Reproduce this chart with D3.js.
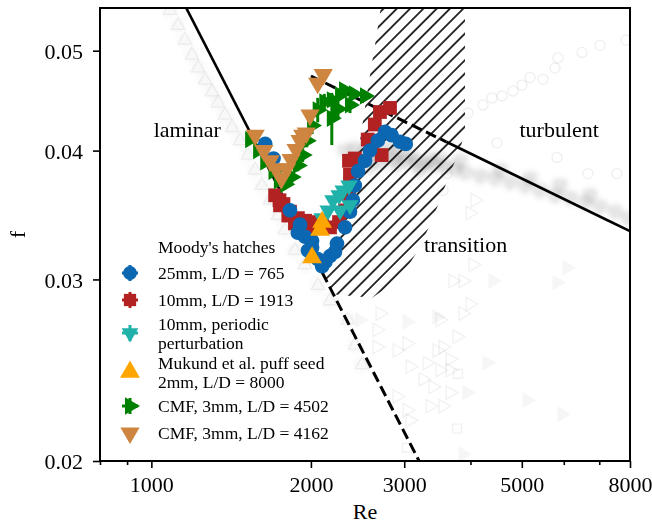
<!DOCTYPE html>
<html>
<head>
<meta charset="utf-8">
<script src="https://cdn.jsdelivr.net/npm/d3@7"></script>
<style>
  body { margin: 0; background: #fff; }
  svg text { font-family: 'Liberation Serif', 'Times New Roman', serif; fill: #000; }
</style>
</head>
<body>
<svg id="chart" width="652" height="527"></svg>
<script>
// --- data (Re, f) ---
var blueRe = [1640, 1700, 1826, 1908, 1950, 2010, 2060, 2100, 2173, 2240, 2320, 2370, 2400, 2420, 2455, 2530, 2585, 2675, 2760, 2840, 2945, 3020,
  1890, 1975, 2130, 2220, 2010]
var blueF = [0.0406, 0.0393, 0.0350, 0.0339, 0.0330, 0.0322, 0.0314, 0.0309, 0.0316, 0.0325, 0.0337, 0.0349, 0.0358, 0.0370, 0.0382, 0.0391, 0.0400, 0.0409, 0.0417, 0.0414, 0.0408, 0.0406,
  0.0333, 0.0320, 0.0312, 0.0319, 0.0327]

var redRe = [1712, 1745, 1775, 1826, 1890, 1950, 2020, 2100, 2173, 2260, 2320, 2360, 2370, 2360, 2420, 2720, 2560, 2640, 2700, 2820,
  1749, 1813, 1866, 1908, 1992]
var redF = [0.0362, 0.0358, 0.0355, 0.0349, 0.0344, 0.0342, 0.0341, 0.0339, 0.0337, 0.0341, 0.0350, 0.0363, 0.0379, 0.0391, 0.0393, 0.0396, 0.0410, 0.0424, 0.0436, 0.0440,
  0.0354, 0.0346, 0.0340, 0.0336, 0.0335]

var tealRe = [2100, 2155, 2200, 2260, 2300, 2360, 2370, 2270]
var tealF = [0.0344, 0.0350, 0.0358, 0.0362, 0.0366, 0.0370, 0.0354, 0.0350]

var orangeRe = [2010, 2081, 2100]
var orangeF = [0.0315, 0.0335, 0.0341]

var greenRe = [1536, 1590, 1640, 1700, 1740, 1790, 1840, 1890, 1930, 1965, 2010, 2060, 2120, 2190, 2270, 2310, 2410, 2530, 2370, 2250, 2190]
var greenF = [0.0410, 0.0400, 0.0390, 0.0382, 0.0374, 0.0371, 0.0377, 0.0387, 0.0396, 0.0409, 0.0423, 0.0438, 0.0446, 0.0448, 0.0453, 0.0458, 0.0454, 0.0452, 0.0443, 0.0439, 0.0430]
var greenErr = [0.0004, 0.0004, 0.0004, 0.0004, 0.0004, 0.0004, 0.0005, 0.0005, 0.0006, 0.0006, 0.0008, 0.0012, 0.0008, 0.0006, 0.0005, 0.0005, 0.0004, 0.0004, 0.0008, 0.0010, 0.0025]

var peruRe = [1570, 1630, 1675, 1720, 1760, 1800, 1835, 1875, 1908, 1960, 1930, 1992, 2060, 2110]
var peruF = [0.0414, 0.0400, 0.0391, 0.0384, 0.0376, 0.0384, 0.0392, 0.0401, 0.0409, 0.0416, 0.0414, 0.0433, 0.0465, 0.0474]

// grey background data
var grayLamRe = [1084, 1123, 1157, 1193, 1225, 1263, 1302, 1336, 1377, 1420, 1470, 1522, 1569, 1617, 1675, 1734, 1788, 1866, 1950, 2063, 2173, 2350, 2423, 2497]
var grayLamF = [0.0547, 0.0529, 0.0512, 0.0495, 0.0481, 0.0468, 0.0456, 0.0445, 0.0433, 0.0421, 0.0409, 0.0396, 0.0383, 0.0370, 0.0358, 0.0346, 0.0335, 0.0320, 0.0310, 0.0296, 0.0286, 0.0274, 0.0259, 0.0248]

var grayCloudRe = [2319, 2423, 2531, 2642, 2759, 2883, 3010, 3144, 3283, 3429, 3581, 3740, 3906, 4170, 4450, 4751, 5071, 5412, 5776, 6166, 6580, 7023, 7497, 7931,
  2476, 2700, 2945, 3213, 3504, 2585, 2820, 3822, 4548, 5181, 5903, 6723, 2600, 2900, 3100, 3350]
var grayCloudF = [0.0400, 0.0402, 0.0399, 0.0400, 0.0396, 0.0393, 0.0391, 0.0390, 0.0388, 0.0387, 0.0386, 0.0384, 0.0381, 0.0378, 0.0376, 0.0373, 0.0370, 0.0366, 0.0362, 0.0360, 0.0356, 0.0353, 0.0349, 0.0344,
  0.0393, 0.0390, 0.0400, 0.0383, 0.0393, 0.0386, 0.0403, 0.0391, 0.0383, 0.0376, 0.0370, 0.0362, 0.0395, 0.0388, 0.0395, 0.0392]

var grayCircRe = [3957, 4224, 4393, 4587, 4812, 5004, 5181, 5483, 5776, 5851, 6494, 7023, 7863, 3612, 3550, 4487, 5826, 6664, 7559]
var grayCircF = [0.0435, 0.0443, 0.0450, 0.0452, 0.0457, 0.0463, 0.0471, 0.0469, 0.0481, 0.0492, 0.0498, 0.0506, 0.0512, 0.0380, 0.0366, 0.0407, 0.0394, 0.0380, 0.0380]

var grayTriRe = [3708, 3873, 3993, 3873, 3504, 2700, 2665, 2665, 2908, 3036, 3459, 3550, 3660, 3774, 3076, 3313, 3504, 3660, 3256, 3400, 3660, 2908, 3036, 3356, 3550, 3076, 3993, 4081, 4045]
var grayTriF = [0.0299, 0.0299, 0.0284, 0.0278, 0.0274, 0.0278, 0.0268, 0.0258, 0.0256, 0.0260, 0.0256, 0.0258, 0.0251, 0.0264, 0.0247, 0.0249, 0.0245, 0.0245, 0.0240, 0.0236, 0.0233, 0.0231, 0.0224, 0.0226, 0.0226, 0.0219, 0.0348, 0.0358, 0.0310]

var grayFillRe = [3459, 4298, 3940, 5117, 5954, 5826, 6085, 3873, 4412, 3036, 2476]
var grayFillF = [0.0276, 0.0249, 0.0233, 0.0229, 0.0222, 0.0298, 0.0308, 0.0203, 0.0299, 0.0273, 0.0274]

var graySqRe = [3790, 3774, 3036]
var graySqF = [0.0243, 0.0215, 0.0206]

// transition zone outline (Re, f), clockwise from top left
var hatchRe = [2724, 3906, 3906, 3822, 3660, 3504, 3356, 3185, 3010, 2820, 2609, 2221, 2098, 2250, 2370, 2476, 2564, 2642]
var hatchF = [0.056, 0.056, 0.0419, 0.0400, 0.0381, 0.0358, 0.0339, 0.0320, 0.0306, 0.0296, 0.0288, 0.0290, 0.0305, 0.0335, 0.0366, 0.0409, 0.0461, 0.0506]

var xMajor = [1000, 2000, 3000, 5000, 8000]
var xMinor = [800, 900, 4000, 6000, 7000]
var yMajor = [0.02, 0.03, 0.04, 0.05]

var legendTitle = "Moody's hatches"
var legendLabels = [['25mm, L/D = 765'], ['10mm, L/D = 1913'], ['10mm, periodic', 'perturbation'],
  ['Mukund et al. puff seed', '2mm, L/D = 8000'], ['CMF, 3mm, L/D = 4502'], ['CMF, 3mm, L/D = 4162']]

var margin = { left: 100, right: 22, top: 8, bottom: 66 }
var width = 652 - margin.left - margin.right
var height = 527 - margin.top - margin.bottom

var x = d3.scaleLog().domain([800, 8000]).range([margin.left, margin.left + width])
var y = d3.scaleLog().domain([0.02, 0.055]).range([margin.top + height, margin.top])

var svg = d3.select('#chart')
var defs = svg.append('defs')
defs.append('clipPath').attr('id', 'plotclip')
  .append('rect')
  .attr('x', margin.left).attr('y', margin.top)
  .attr('width', width).attr('height', height)

var pat = defs.append('pattern')
  .attr('id', 'hatch')
  .attr('patternUnits', 'userSpaceOnUse')
  .attr('width', 10).attr('height', 9.4)
  .attr('patternTransform', 'rotate(-45)')
pat.append('line')
  .attr('x1', -1).attr('x2', 11).attr('y1', 4.7).attr('y2', 4.7)
  .attr('stroke', '#000').attr('stroke-width', 1.6)

var blur = defs.append('filter').attr('id', 'soft')
blur.append('feGaussianBlur').attr('stdDeviation', 2)

var plot = svg.append('g').attr('clip-path', 'url(#plotclip)')

function drawSymbols (g, re, f, shape, rot, size, fill, stroke, opacity) {
  g.selectAll(null).data(re).enter().append('path')
    .attr('d', d3.symbol().type(shape).size(size))
    .attr('transform', function (d, i) { return 'translate(' + x(d) + ',' + y(f[i]) + ') rotate(' + rot + ')' })
    .attr('fill', fill)
    .attr('stroke', stroke)
    .attr('stroke-width', stroke === 'none' ? 0 : 1.3)
    .attr('opacity', opacity)
}

// grey background
var bg = plot.append('g')
var cloud = bg.append('g').attr('filter', 'url(#soft)')
drawSymbols(cloud, grayCloudRe, grayCloudF, d3.symbolCircle, 0, 220, '#606060', 'none', 0.1)
drawSymbols(cloud, grayCloudRe, grayCloudF, d3.symbolTriangle, 180, 140, '#606060', 'none', 0.07)
drawSymbols(cloud, grayLamRe, grayLamF, d3.symbolCircle, 0, 160, '#606060', 'none', 0.05)
drawSymbols(bg, grayLamRe, grayLamF, d3.symbolTriangle, 0, 80, 'none', '#909090', 0.13)
drawSymbols(bg, grayCircRe, grayCircF, d3.symbolCircle, 0, 80, 'none', '#909090', 0.14)
drawSymbols(bg, grayTriRe, grayTriF, d3.symbolTriangle, 90, 80, 'none', '#909090', 0.13)
drawSymbols(bg, grayFillRe, grayFillF, d3.symbolTriangle, 90, 110, '#909090', 'none', 0.08)
drawSymbols(bg, graySqRe, graySqF, d3.symbolSquare, 0, 80, 'none', '#909090', 0.13)

// transition zone
var hatchLine = d3.line()
  .x(function (d) { return x(d) })
  .y(function (d, i) { return y(hatchF[i]) })
plot.append('path')
  .attr('d', hatchLine(hatchRe) + 'Z')
  .attr('fill', 'url(#hatch)')
  .attr('stroke', 'none')

// laminar 64/Re and Blasius 0.316/Re^0.25
var lamSolid = [1150, 2100]
var lamDash = [2100, 3400]
var blaDash = [2000, 3600]
var blaSolid = [3600, 8000]
function lam (re) { return 64 / re }
function blasius (re) { return 0.316 / Math.pow(re, 0.25) }

function drawLaw (re, law, dash) {
  var line = d3.line().x(function (d) { return x(d) }).y(function (d) { return y(law(d)) })
  plot.append('path')
    .attr('d', line(re))
    .attr('fill', 'none')
    .attr('stroke', '#000')
    .attr('stroke-width', dash ? 3 : 2.6)
    .attr('stroke-dasharray', dash ? '11,5' : null)
}
drawLaw(lamSolid, lam, false)
drawLaw(lamDash, lam, true)
drawLaw(blaDash, blasius, true)
drawLaw(blaSolid, blasius, false)

// measurement series
var blue = '#0b67b2'
var red = '#b22222'
var teal = '#20b2aa'
var orange = '#ffa500'
var green = '#008000'
var peru = '#cd853f'

var pts = plot.append('g')
drawSymbols(pts, redRe, redF, d3.symbolSquare, 0, 190, red, 'none', 1)
drawSymbols(pts, blueRe, blueF, d3.symbolCircle, 0, 170, blue, 'none', 1)
drawSymbols(pts, tealRe, tealF, d3.symbolTriangle, 180, 130, teal, 'none', 1)
drawSymbols(pts, orangeRe, orangeF, d3.symbolTriangle, 0, 170, orange, 'none', 1)

pts.selectAll(null).data(greenRe).enter().append('line')
  .attr('x1', function (d) { return x(d) })
  .attr('x2', function (d) { return x(d) })
  .attr('y1', function (d, i) { return y(greenF[i] + greenErr[i]) })
  .attr('y2', function (d, i) { return y(greenF[i] - greenErr[i]) })
  .attr('stroke', green)
  .attr('stroke-width', 3)
drawSymbols(pts, greenRe, greenF, d3.symbolTriangle, 90, 130, green, 'none', 1)
drawSymbols(pts, peruRe, peruF, d3.symbolTriangle, 180, 160, peru, 'none', 1)

// axes
var axes = svg.append('g')
axes.append('rect')
  .attr('x', margin.left).attr('y', margin.top)
  .attr('width', width).attr('height', height)
  .attr('fill', 'none').attr('stroke', '#000').attr('stroke-width', 2)

var xAx = axes.append('g').attr('transform', 'translate(0,' + (margin.top + height) + ')')
  .call(d3.axisBottom(x).tickValues(xMajor).tickSize(7).tickPadding(8).tickFormat(d3.format('d')))
var xAxMinor = axes.append('g').attr('transform', 'translate(0,' + (margin.top + height) + ')')
  .call(d3.axisBottom(x).tickValues(xMinor).tickSize(4).tickFormat(''))
var yAx = axes.append('g').attr('transform', 'translate(' + margin.left + ',0)')
  .call(d3.axisLeft(y).tickValues(yMajor).tickSize(7).tickPadding(10).tickFormat(d3.format('.2f')))

;[xAx, xAxMinor, yAx].forEach(function (a) {
  a.select('.domain').remove()
  a.selectAll('.tick line').attr('stroke', '#000').attr('stroke-width', 1.6)
  a.selectAll('.tick text').style('font-family', "'Liberation Serif', serif").style('font-size', '22px').attr('fill', '#000')
})
yAx.selectAll('.tick text').attr('dy', '0.36em')

svg.append('text').attr('x', margin.left + width / 2).attr('y', 519)
  .attr('text-anchor', 'middle').style('font-size', '22px').text('Re')
svg.append('text').attr('transform', 'translate(25,' + (margin.top + height / 2) + ') rotate(-90)')
  .attr('text-anchor', 'middle').style('font-size', '22px').text('f')

// region labels
var regionNames = ['laminar', 'turbulent', 'transition']
var regionRe = [1010, 4950, 3270]
var regionF = [0.0412, 0.0412, 0.0319]
svg.selectAll(null).data(regionNames).enter().append('text')
  .attr('x', function (d, i) { return x(regionRe[i]) })
  .attr('y', function (d, i) { return y(regionF[i]) })
  .style('font-size', '22px')
  .text(function (d) { return d })

// legend
var leg = svg.append('g').attr('transform', 'translate(130,0)')
leg.append('text').attr('x', 28).attr('y', 253).style('font-size', '17.5px').text(legendTitle)
var rowY = [273, 300, 333, 372, 406, 433]
var legShapes = [d3.symbolCircle, d3.symbolSquare, d3.symbolTriangle, d3.symbolTriangle, d3.symbolTriangle, d3.symbolTriangle]
var legRot = [0, 0, 180, 0, 90, 180]
var legSize = [150, 150, 120, 170, 130, 160]
var legColor = [blue, red, teal, orange, green, peru]
var legErr = [true, true, true, false, true, false]

legendLabels.forEach(function (lines, i) {
  var g = leg.append('g').attr('transform', 'translate(0,' + rowY[i] + ')')
  if (legErr[i]) {
    g.append('path')
      .attr('d', 'M-8,0H8M0,-8V8')
      .attr('stroke', legColor[i]).attr('stroke-width', 3)
  }
  g.append('path')
    .attr('d', d3.symbol().type(legShapes[i]).size(legSize[i]))
    .attr('transform', 'rotate(' + legRot[i] + ')')
    .attr('fill', legColor[i])
  lines.forEach(function (t, j) {
    g.append('text')
      .attr('x', 28)
      .attr('y', (j - (lines.length - 1) / 2) * 19 + 6)
      .style('font-size', '17.5px')
      .text(t)
  })
})
</script>
</body>
</html>
